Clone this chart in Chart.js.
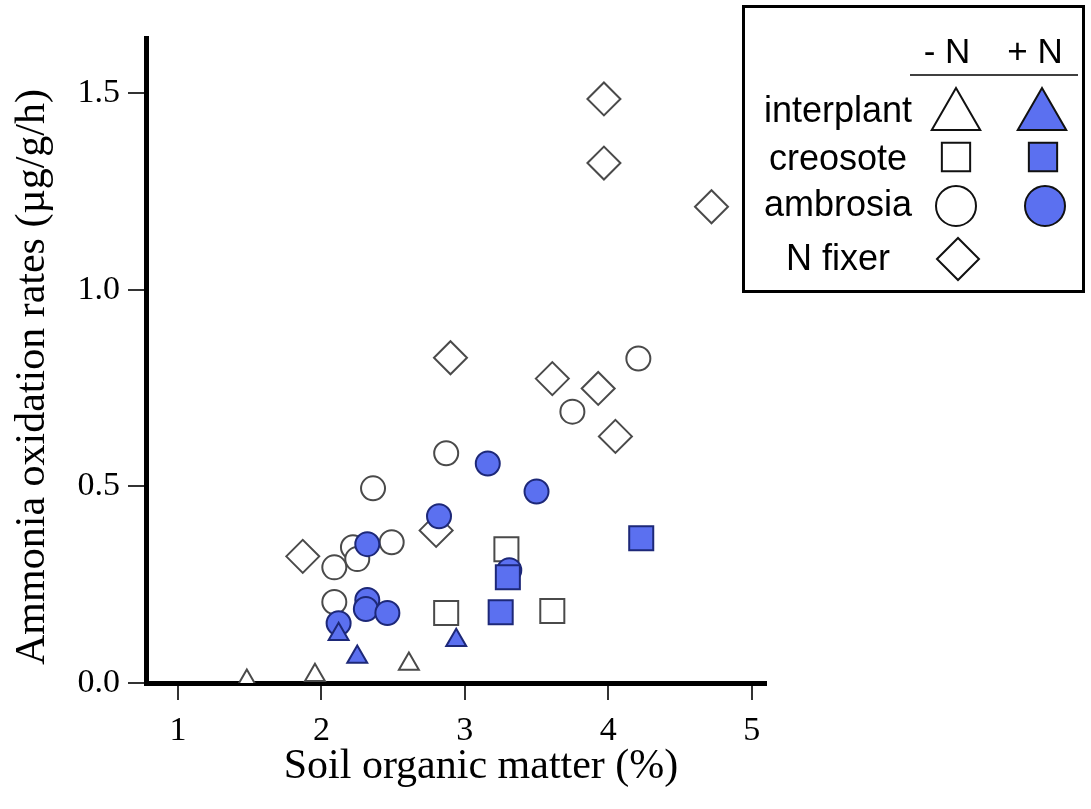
<!DOCTYPE html>
<html>
<head>
<meta charset="utf-8">
<script src="https://cdn.jsdelivr.net/npm/chart.js@4.4.1/dist/chart.umd.min.js"></script>
<style>
  html, body { margin: 0; padding: 0; background: #fff; }
  #wrap { width: 1091px; height: 809px; position: relative; }
</style>
</head>
<body>
<div id="wrap"><canvas id="c" width="1091" height="809"></canvas></div>
<script>
// ---- data ----
const xTickValues = [1, 2, 3, 4, 5];
const yTickValues = [0, 0.5, 1.0, 1.5];
const xTitle = 'Soil organic matter (%)';
const yTitle = 'Ammonia oxidation rates (\u00b5g/g/h)';

const interplantMinusX = [1.48, 1.955, 2.61];
const interplantMinusY = [0.005, 0.020, 0.048];
const interplantPlusX = [2.12, 2.25, 2.94];
const interplantPlusY = [0.124, 0.066, 0.109];

const creosoteMinusX = [3.29, 2.87, 3.61];
const creosoteMinusY = [0.340, 0.178, 0.183];
const creosotePlusX = [3.30, 3.25, 4.23];
const creosotePlusY = [0.269, 0.180, 0.368];

const ambrosiaMinusX = [4.21, 3.75, 2.87, 2.36, 2.49, 2.22, 2.25, 2.09, 2.09];
const ambrosiaMinusY = [0.825, 0.690, 0.584, 0.495, 0.358, 0.345, 0.315, 0.294, 0.206];
const ambrosiaPlusX = [3.16, 3.50, 2.82, 2.32, 3.31, 2.32, 2.31, 2.46, 2.12];
const ambrosiaPlusY = [0.558, 0.487, 0.424, 0.353, 0.287, 0.211, 0.188, 0.178, 0.152];

const nFixerX = [3.97, 3.97, 4.72, 2.90, 3.61, 3.93, 4.05, 1.87, 2.80];
const nFixerY = [1.485, 1.322, 1.211, 0.827, 0.774, 0.749, 0.627, 0.322, 0.388];

const legendRows = ['interplant', 'creosote', 'ambrosia', 'N fixer'];
const legendHeads = ['- N', '+ N'];

// ---- styles ----
const BLUE = '#5b70f0';
const BLUE_EDGE = '#1d2878';
const OPEN_EDGE = '#4a4a4a';
const SERIF = '"Liberation Serif", "Times New Roman", serif';
const SANS = '"Liberation Sans", Arial, sans-serif';

function pts(xs, ys) { return xs.map((x, i) => ({ x: x, y: ys[i] })); }

function ds(label, xs, ys, style, radius, filled, order) {
  return {
    label: label,
    data: pts(xs, ys),
    pointStyle: style,
    pointRadius: radius,
    pointHoverRadius: radius,
    pointBackgroundColor: filled ? BLUE : '#ffffff',
    pointBorderColor: filled ? BLUE_EDGE : OPEN_EDGE,
    pointBorderWidth: 2,
    showLine: false,
    order: order
  };
}

const datasets = [
  ds('interplant +N', interplantPlusX, interplantPlusY, 'triangle', 11.5, true, 0),
  ds('creosote +N', creosotePlusX, creosotePlusY, 'rect', 17, true, 1),
  ds('ambrosia +N', ambrosiaPlusX, ambrosiaPlusY, 'circle', 12, true, 2),
  ds('interplant -N', interplantMinusX, interplantMinusY, 'triangle', 11.5, false, 3),
  ds('creosote -N', creosoteMinusX, creosoteMinusY, 'rect', 17, false, 4),
  ds('ambrosia -N', ambrosiaMinusX, ambrosiaMinusY, 'circle', 12, false, 5),
  ds('N fixer', nFixerX, nFixerY, 'rectRot', 16.5, false, 6)
];

function shape(ctx, style, x, y, r) {
  ctx.beginPath();
  if (style === 'circle') {
    ctx.arc(x, y, r, 0, Math.PI * 2);
  } else if (style === 'rect') {
    const s = Math.SQRT1_2 * r;
    ctx.rect(x - s, y - s, 2 * s, 2 * s);
  } else if (style === 'rectRot') {
    ctx.moveTo(x - r, y); ctx.lineTo(x, y - r); ctx.lineTo(x + r, y); ctx.lineTo(x, y + r);
    ctx.closePath();
  } else if (style === 'triangle') {
    let a = 0;
    ctx.moveTo(x + Math.sin(a) * r, y - Math.cos(a) * r);
    a += 2 * Math.PI / 3;
    ctx.lineTo(x + Math.sin(a) * r, y - Math.cos(a) * r);
    a += 2 * Math.PI / 3;
    ctx.lineTo(x + Math.sin(a) * r, y - Math.cos(a) * r);
    ctx.closePath();
  }
}

const titlesPlugin = {
  id: 'axisTitles',
  afterDraw(chart) {
    const ctx = chart.ctx;
    ctx.save();
    ctx.fillStyle = '#000';
    ctx.font = '42px ' + SERIF;
    ctx.textAlign = 'center';
    ctx.textBaseline = 'middle';
    ctx.fillText(xTitle, 481, 767);
    ctx.translate(33, 377);
    ctx.rotate(-Math.PI / 2);
    ctx.fillText(yTitle, 0, 0);
    ctx.restore();
  }
};

const legendPlugin = {
  id: 'customLegend',
  afterDraw(chart) {
    const ctx = chart.ctx;
    ctx.save();
    ctx.strokeStyle = '#000';
    ctx.lineWidth = 3;
    ctx.strokeRect(743.5, 6.5, 340, 285);
    ctx.fillStyle = '#000';
    ctx.font = '35px ' + SANS;
    ctx.textAlign = 'center';
    ctx.textBaseline = 'alphabetic';
    ctx.fillText(legendHeads[0], 947, 63);
    ctx.fillText(legendHeads[1], 1035, 63);
    ctx.lineWidth = 1.5;
    ctx.beginPath();
    ctx.moveTo(910, 75); ctx.lineTo(1078, 75);
    ctx.stroke();
    ctx.font = '36px ' + SANS;
    const baselines = [122, 170, 216, 270];
    legendRows.forEach((t, i) => ctx.fillText(t, 838, baselines[i]));
    const sym = [
      ['triangle', 956, 116, 28, false], ['triangle', 1042, 116, 28, true],
      ['rect', 956, 157, 20, false], ['rect', 1043, 157, 20, true],
      ['circle', 956, 206, 20, false], ['circle', 1045, 206, 20, true],
      ['rectRot', 958, 259, 21, false]
    ];
    sym.forEach(s => {
      shape(ctx, s[0], s[1], s[2], s[3]);
      ctx.fillStyle = s[4] ? BLUE : '#fff';
      ctx.fill();
      ctx.lineWidth = 2;
      ctx.strokeStyle = '#111';
      ctx.stroke();
    });
    ctx.restore();
  }
};

new Chart(document.getElementById('c'), {
  type: 'scatter',
  data: { datasets: datasets },
  options: {
    responsive: false,
    animation: false,
    events: [],
    layout: { padding: { left: 0, top: 38, right: 325, bottom: 0 } },
    plugins: { legend: { display: false }, tooltip: { enabled: false } },
    scales: {
      x: {
        type: 'linear',
        min: 0.777, max: 5.1,
        afterBuildTicks: s => { s.ticks = xTickValues.map(v => ({ value: v })); },
        afterFit: s => { s.height = 126; },
        border: { display: true, color: '#000', width: 5 },
        grid: { display: true, drawOnChartArea: false, drawTicks: true, tickLength: 17, color: '#333', lineWidth: 2 },
        ticks: {
          color: '#000', padding: 11, maxRotation: 0, autoSkip: false,
          font: { family: SERIF, size: 34 },
          callback: v => String(v)
        },
        title: { display: false }
      },
      y: {
        type: 'linear',
        min: 0, max: 1.64,
        afterBuildTicks: s => { s.ticks = yTickValues.map(v => ({ value: v })); },
        afterFit: s => { s.width = 146; },
        border: { display: true, color: '#000', width: 5 },
        grid: { display: true, drawOnChartArea: false, drawTicks: true, tickLength: 18, color: '#333', lineWidth: 2 },
        ticks: {
          color: '#000', padding: 8, autoSkip: false,
          font: { family: SERIF, size: 34 },
          callback: v => Number(v).toFixed(1)
        },
        title: { display: false }
      }
    }
  },
  plugins: [titlesPlugin, legendPlugin]
});
</script>
</body>
</html>
